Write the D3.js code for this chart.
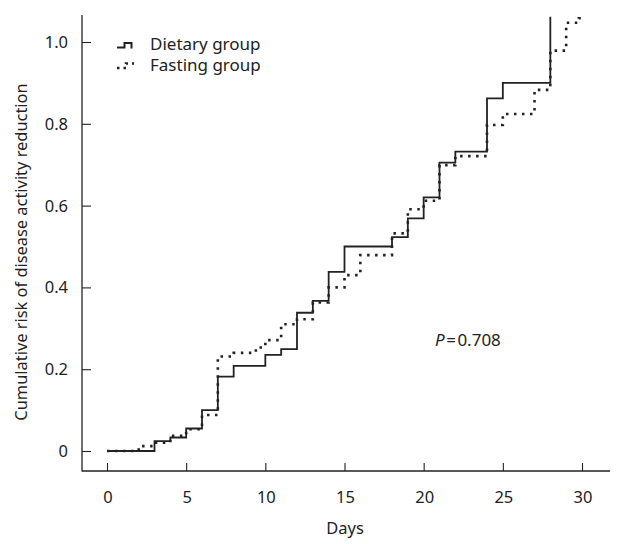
<!DOCTYPE html>
<html><head><meta charset="utf-8">
<script src="https://cdn.jsdelivr.net/npm/d3@7"></script>
<style>body{margin:0;background:#fff}svg{display:block}text{font-family:"Noto Sans",sans-serif;fill:#222}</style>
</head><body><svg id="c" width="627" height="544"></svg>
<script>
const dietaryDays   = [0,3,4,5,6,7,8,10,11,12,13,14,15,18,19,20,21,22,24,25,28,28];
const dietaryValues = [0,0.024,0.033,0.055,0.10,0.182,0.208,0.235,0.249,0.338,0.367,0.438,0.50,0.523,0.569,0.62,0.705,0.732,0.862,0.90,1.062,1.062];
const fastingDays   = [0,2,3,4,5,6,7,8,9.4,10,11,12,13,14,15,16,18,19,20,21,22,24,25,27,28,29,29.8,30.1];
const fastingValues = [0,0.012,0.02,0.037,0.053,0.088,0.231,0.24,0.253,0.271,0.31,0.322,0.363,0.40,0.43,0.479,0.532,0.591,0.612,0.699,0.721,0.797,0.824,0.883,0.979,1.047,1.058,1.058];
const xTicks = [0,5,10,15,20,25,30];
const yTicks = [0,0.2,0.4,0.6,0.8,1.0];
const yTickLabels = ["0","0.2","0.4","0.6","0.8","1.0"];

const svg = d3.select("#c");
const x = d3.scaleLinear().domain([0,30]).range([107,582]);
const y = d3.scaleLinear().domain([0,1]).range([451,42]);
const axisY0 = 471, axisX0 = 82;

svg.append("line").attr("x1",axisX0).attr("x2",axisX0).attr("y1",15).attr("y2",axisY0+0.5).attr("stroke","#222").attr("stroke-width",1.3);
svg.append("line").attr("x1",axisX0).attr("x2",610).attr("y1",axisY0).attr("y2",axisY0).attr("stroke","#222").attr("stroke-width",1.3);

const xa = svg.append("g").attr("transform",`translate(0,${axisY0})`)
  .call(d3.axisTop(x).tickValues(xTicks).tickSize(8).tickFormat(""));
xa.select(".domain").remove();
xa.selectAll("line").attr("stroke","#222").attr("stroke-width",1.1);
svg.append("g").selectAll("text").data(xTicks).join("text")
  .attr("x",d=>x(d)+1).attr("y",503).attr("text-anchor","middle").attr("font-size",16.5).text(d=>d);

const ya = svg.append("g").attr("transform",`translate(${axisX0},0)`)
  .call(d3.axisRight(y).tickValues(yTicks).tickSize(9).tickFormat(""));
ya.select(".domain").remove();
ya.selectAll("line").attr("stroke","#222").attr("stroke-width",1.1);
svg.append("g").selectAll("text").data(yTicks).join("text")
  .attr("x",68).attr("y",d=>y(d)+6).attr("text-anchor","end").attr("font-size",16.5).text((d,i)=>yTickLabels[i]);

svg.append("text").attr("x",345).attr("y",534).attr("text-anchor","middle").attr("font-size",16.5).text("Days");
svg.append("text").attr("transform","translate(27,252) rotate(-90)").attr("text-anchor","middle").attr("font-size",16.4)
  .text("Cumulative risk of disease activity reduction");

const line = d3.line().x(d=>x(d[0])).y(d=>y(d[1])).curve(d3.curveStepAfter);
const dData = dietaryDays.map((d,i)=>[d,dietaryValues[i]]);
const fData = fastingDays.map((d,i)=>[d,fastingValues[i]]);
svg.append("path").attr("d",line(fData)).attr("fill","none").attr("stroke","#222").attr("stroke-width",2.6).attr("stroke-dasharray","2.5,5.5");
svg.append("path").attr("d",line(dData)).attr("fill","none").attr("stroke","#222").attr("stroke-width",1.8);

// legend
svg.append("path").attr("d","M117,47.5H124.5V43H131.5V48.5").attr("fill","none").attr("stroke","#222").attr("stroke-width",2);
svg.append("path").attr("d","M117,68H126V63.5H134").attr("fill","none").attr("stroke","#222").attr("stroke-width",2.5).attr("stroke-dasharray","2.5,4");
svg.append("text").attr("x",150).attr("y",50).attr("font-size",17).text("Dietary group");
svg.append("text").attr("x",150).attr("y",71).attr("font-size",17).text("Fasting group");

const pt = svg.append("text").attr("x",435).attr("y",346).attr("font-size",17);
pt.append("tspan").attr("font-style","italic").text("P");
pt.append("tspan").attr("dx",1.5).text("=");
pt.append("tspan").attr("dx",1.5).text("0.708");
</script></body></html>
